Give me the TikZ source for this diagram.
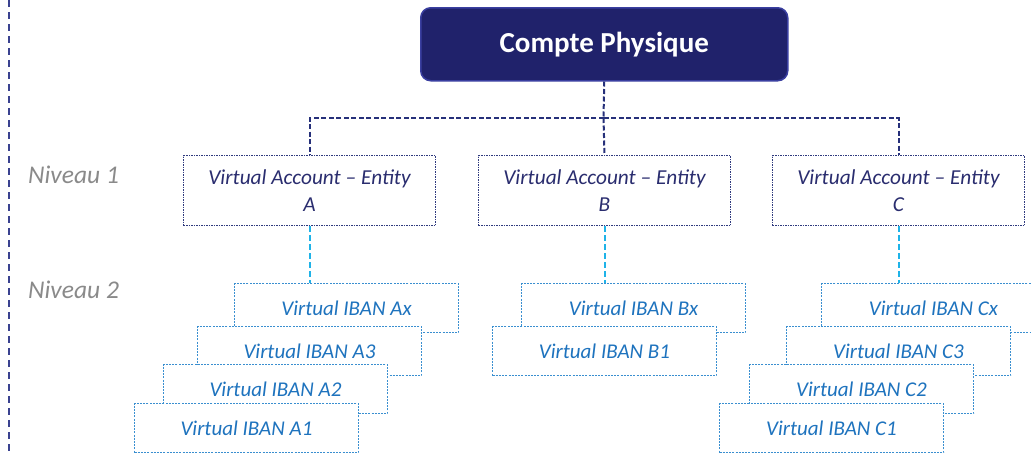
\documentclass[tikz,border=0pt]{standalone}
\usepackage{fontspec}
\setmainfont{Carlito}
\definecolor{topfill}{HTML}{20226B}
\definecolor{topdraw}{HTML}{3A3FA0}
\definecolor{navyb}{HTML}{2F3A7E}
\definecolor{navyt}{HTML}{2A2D6F}
\definecolor{navyc}{HTML}{26307A}
\definecolor{leftl}{HTML}{3A4290}
\definecolor{ibanb}{HTML}{3A8FD0}
\definecolor{ibant}{HTML}{1E73BE}
\definecolor{cyanc}{HTML}{1FB3E8}
\definecolor{nivgray}{HTML}{8A8A8A}
\begin{document}
\begin{tikzpicture}[x=1pt,y=-1pt,
  topbox/.style={draw=topdraw, line width=1.5pt, fill=topfill, rounded corners=10pt,
    minimum width=367pt, minimum height=73pt, inner sep=0pt, anchor=north west,
    text=white, font=\fontsize{29}{33}\selectfont\bfseries},
  lvlone/.style={draw=navyb, dash pattern=on 1.5pt off 1pt, line width=1pt, fill=white,
    minimum width=252pt, minimum height=70pt, inner sep=0pt, anchor=north west,
    align=center, text=navyt, font=\fontsize{21.3}{27}\selectfont\itshape},
  iban/.style={draw=ibanb, dash pattern=on 2pt off 1.2pt, line width=1pt, fill=white,
    minimum width=224pt, minimum height=49pt, inner sep=0pt, anchor=north west,
    text=ibant, font=\fontsize{21}{25}\selectfont\itshape},
  niv/.style={anchor=west, inner sep=0pt, text=nivgray, font=\fontsize{25.5}{29}\selectfont\itshape},
  navyconn/.style={draw=navyc, line width=2pt, dash pattern=on 5pt off 2.5pt},
  cyanconn/.style={draw=cyanc, line width=2pt, dash pattern=on 6pt off 3pt},
  leftline/.style={draw=leftl, line width=2pt, dash pattern=on 7pt off 5pt}
]
\useasboundingbox (0,0) rectangle (1031,453);
\clip (0,0) rectangle (1031,453);

% left dashed separator
\coordinate (ltop) at (9,0);
\coordinate (lbot) at (9,453);
\draw[leftline] (ltop) -- (lbot);

% level labels
\node[niv] (n1) at (28,175) {Niveau 1};
\node[niv] (n2) at (28,290) {Niveau 2};

% top node
\node[topbox] (top) at (420,7) {Compte Physique};

% level 1
\node[lvlone] (A) at (183,155) {Virtual Account – Entity\\A};
\node[lvlone] (B) at (478,155) {Virtual Account – Entity\\B};
\node[lvlone] (C) at (772,155) {Virtual Account – Entity\\C};

% bus
\coordinate (bus) at (603.5,118);
\draw[navyconn] (top.south) -- (bus);
\draw[navyconn] (bus) -| (A.north);
\draw[navyconn] (bus) -| (C.north);
\draw[navyconn] (bus) -- (B.north);

% stack A
\node[iban] (Ax) at (234,283) {Virtual IBAN Ax};
\node[iban] (A3) at (197,326) {Virtual IBAN A3};
\node[iban] (A2) at (163,364) {Virtual IBAN A2};
\node[iban] (A1) at (134,403) {Virtual IBAN A1};

% stack B
\node[iban] (Bx) at (521,283) {Virtual IBAN Bx};
\node[iban] (B1) at (492,326) {Virtual IBAN B1};

% stack C
\node[iban] (Cx) at (821,283) {Virtual IBAN Cx};
\node[iban] (C3) at (786,326) {Virtual IBAN C3};
\node[iban] (C2) at (749,364) {Virtual IBAN C2};
\node[iban] (C1) at (719,403) {Virtual IBAN C1};

% level 1 -> level 2 connectors
\draw[cyanconn] (A.south) -- (A.south |- Ax.north);
\draw[cyanconn] (B.south) -- (B.south |- Bx.north);
\draw[cyanconn] (C.south) -- (C.south |- Cx.north);
\end{tikzpicture}
\end{document}
